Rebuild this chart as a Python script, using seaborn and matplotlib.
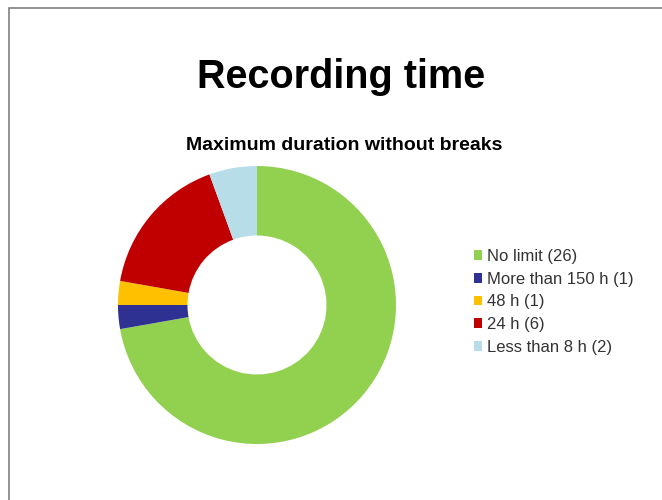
import matplotlib
matplotlib.use('Agg')
import matplotlib.pyplot as plt
import seaborn as sns
from matplotlib.patches import Rectangle

## data
labels = ['No limit (26)', 'More than 150 h (1)', '48 h (1)', '24 h (6)', 'Less than 8 h (2)']
counts = [26, 1, 1, 6, 2]
colors = ['#92D050', '#2E3192', '#FFC000', '#C00000', '#B7DEE8']

sns.set_theme(style='white')
plt.rcParams['font.family'] = ['Liberation Sans', 'DejaVu Sans']

W, H = 662, 500
fig = plt.figure(figsize=(W / 100, H / 100), dpi=100)

# outer frame (runs off the right and bottom edges)
fig.patches.append(Rectangle((9 / W, -0.1), 1, 1.1 - 8 / H, transform=fig.transFigure,
                             fill=False, edgecolor='#808080', linewidth=1.2))

fig.text(341 / W, 1 - 88 / H, 'Recording time', ha='center', va='baseline',
         fontsize=28.5, fontweight='bold', color='black')
fig.text(344 / W, 1 - 150 / H, 'Maximum duration without breaks', ha='center', va='baseline',
         fontsize=14, fontweight='bold', color='black')

## donut
cx, cy, r = 257, 305, 139
ax = fig.add_axes([(cx - r) / W, (H - cy - r) / H, 2 * r / W, 2 * r / H])
wedges, _ = ax.pie(counts, colors=colors, startangle=90, counterclock=False,
                   wedgeprops=dict(width=0.5, edgecolor='none'))
ax.set_xlim(-1, 1)
ax.set_ylim(-1, 1)
ax.set_aspect('auto')
ax.axis('off')

leg = fig.legend(wedges, labels, loc='upper left', bbox_to_anchor=(474 / W, 1 - 249 / H),
                 frameon=False, fontsize=12, handlelength=0.5, handleheight=0.5,
                 handletextpad=0.3, labelspacing=0.46, borderaxespad=0, borderpad=0,
                 labelcolor='#333333')

fig.savefig('out.png', dpi=100, facecolor='white')
